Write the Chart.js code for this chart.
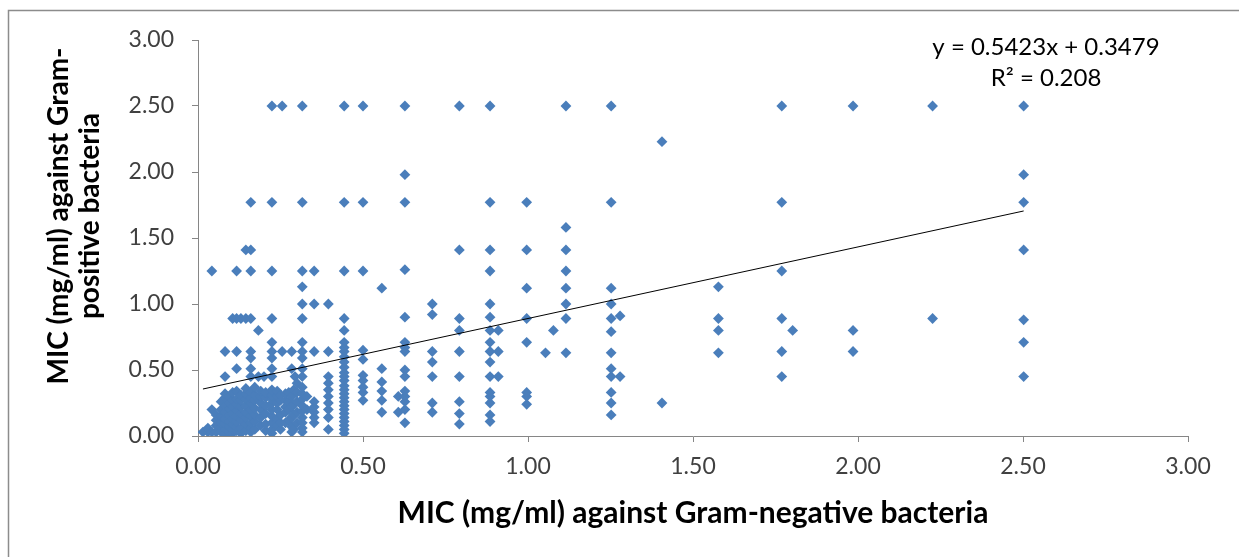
<!DOCTYPE html>
<html>
<head>
<meta charset="utf-8">
<script src="https://cdn.jsdelivr.net/npm/chart.js@4.4.1/dist/chart.umd.min.js"></script>
<style>
html,body{margin:0;padding:0;background:#fff;}
#wrap{width:1239px;height:557px;position:relative;}
</style>
</head>
<body>
<div id="wrap"><canvas id="c" width="1239" height="557"></canvas></div>
<script>
// MIC against Gram-negative bacteria (x) — one line per column of points
const gramNegative = [
  0.015,
  0.03, 0.03,
  0.042, 0.042, 0.042,
  0.055, 0.055, 0.055, 0.055,
  0.07, 0.07, 0.07, 0.07, 0.07, 0.07,
  0.082, 0.082, 0.082, 0.082, 0.082, 0.082, 0.082, 0.082, 0.082, 0.082,
  0.095, 0.095, 0.095, 0.095, 0.095, 0.095, 0.095,
  0.105, 0.105, 0.105, 0.105, 0.105, 0.105, 0.105, 0.105, 0.105,
  0.117, 0.117, 0.117, 0.117, 0.117, 0.117, 0.117, 0.117, 0.117, 0.117, 0.117, 0.117,
  0.13, 0.13, 0.13, 0.13, 0.13, 0.13, 0.13, 0.13,
  0.145, 0.145, 0.145, 0.145, 0.145, 0.145, 0.145, 0.145, 0.145, 0.145,
  0.16, 0.16, 0.16, 0.16, 0.16, 0.16, 0.16, 0.16, 0.16, 0.16, 0.16, 0.16, 0.16, 0.16, 0.16, 0.16,
  0.172, 0.172, 0.172, 0.172, 0.172, 0.172, 0.172,
  0.183, 0.183,
  0.19, 0.19, 0.19, 0.19, 0.19, 0.19,
  0.2,
  0.205, 0.205, 0.205, 0.205, 0.205, 0.205,
  0.224, 0.224, 0.224, 0.224, 0.224, 0.224, 0.224, 0.224, 0.224, 0.224, 0.224, 0.224, 0.224, 0.224, 0.224, 0.224, 0.224, 0.224,
  0.24, 0.24, 0.24, 0.24, 0.24, 0.24,
  0.25, 0.25, 0.25, 0.25, 0.25,
  0.255, 0.255,
  0.265, 0.265, 0.265, 0.265, 0.265,
  0.275, 0.275, 0.275, 0.275,
  0.284, 0.284, 0.284, 0.284, 0.284, 0.284, 0.284,
  0.29, 0.29, 0.29, 0.29,
  0.294,
  0.3, 0.3, 0.3, 0.3, 0.3,
  0.316, 0.316, 0.316, 0.316, 0.316, 0.316, 0.316, 0.316, 0.316, 0.316, 0.316, 0.316, 0.316, 0.316, 0.316, 0.316, 0.316, 0.316, 0.316, 0.316,
  0.33, 0.33,
  0.352, 0.352, 0.352, 0.352, 0.352, 0.352, 0.352, 0.352,
  0.395, 0.395, 0.395, 0.395, 0.395, 0.395, 0.395, 0.395, 0.395, 0.395,
  0.443, 0.443, 0.443, 0.443, 0.443, 0.443, 0.443, 0.443, 0.443, 0.443, 0.443, 0.443, 0.443, 0.443, 0.443, 0.443, 0.443, 0.443, 0.443, 0.443, 0.443, 0.443, 0.443, 0.443, 0.443, 0.443, 0.443,
  0.5, 0.5, 0.5, 0.5, 0.5, 0.5, 0.5, 0.5, 0.5, 0.5,
  0.557, 0.557, 0.557, 0.557, 0.557, 0.557,
  0.607, 0.607,
  0.627, 0.627, 0.627, 0.627, 0.627, 0.627, 0.627, 0.627, 0.627, 0.627, 0.627, 0.627, 0.627, 0.627, 0.627,
  0.71, 0.71, 0.71, 0.71, 0.71, 0.71, 0.71,
  0.792, 0.792, 0.792, 0.792, 0.792, 0.792, 0.792, 0.792, 0.792,
  0.885, 0.885, 0.885, 0.885, 0.885, 0.885, 0.885, 0.885, 0.885, 0.885, 0.885, 0.885, 0.885, 0.885, 0.885, 0.885,
  0.91, 0.91, 0.91,
  0.996, 0.996, 0.996, 0.996, 0.996, 0.996, 0.996, 0.996,
  1.053,
  1.077,
  1.115, 1.115, 1.115, 1.115, 1.115, 1.115, 1.115, 1.115,
  1.252, 1.252, 1.252, 1.252, 1.252, 1.252, 1.252, 1.252, 1.252, 1.252, 1.252, 1.252,
  1.279, 1.279,
  1.406, 1.406,
  1.577, 1.577, 1.577, 1.577,
  1.769, 1.769, 1.769, 1.769, 1.769, 1.769,
  1.802,
  1.985, 1.985, 1.985,
  2.226, 2.226,
  2.502, 2.502, 2.502, 2.502, 2.502, 2.502, 2.502
];

// MIC against Gram-positive bacteria (y) — same order as above
const gramPositive = [
  0.03,
  0.03, 0.06,
  0.03, 0.2, 1.25,
  0.03, 0.08, 0.12, 0.16,
  0.03, 0.06, 0.1, 0.15, 0.2, 0.26,
  0.02, 0.05, 0.09, 0.13, 0.18, 0.23, 0.29, 0.32, 0.45, 0.64,
  0.03, 0.07, 0.11, 0.16, 0.21, 0.25, 0.3,
  0.02, 0.05, 0.09, 0.13, 0.17, 0.22, 0.27, 0.33, 0.89,
  0.04, 0.07, 0.11, 0.15, 0.19, 0.24, 0.28, 0.34, 0.51, 0.64, 0.89, 1.25,
  0.02, 0.06, 0.12, 0.17, 0.22, 0.27, 0.31, 0.89,
  0.04, 0.09, 0.14, 0.18, 0.23, 0.28, 0.32, 0.36, 0.89, 1.41,
  0.03, 0.06, 0.1, 0.15, 0.2, 0.25, 0.29, 0.33, 0.45, 0.51, 0.59, 0.64, 0.89, 1.25, 1.41, 1.77,
  0.05, 0.11, 0.16, 0.21, 0.27, 0.31, 0.37,
  0.45, 0.8,
  0.08, 0.14, 0.2, 0.25, 0.3, 0.34,
  0.45,
  0.04, 0.09, 0.17, 0.23, 0.29, 0.33,
  0.02, 0.05, 0.1, 0.15, 0.2, 0.25, 0.28, 0.31, 0.35, 0.45, 0.51, 0.59, 0.64, 0.71, 0.89, 1.25, 1.77, 2.5,
  0.08, 0.13, 0.2, 0.25, 0.3, 0.34,
  0.05, 0.1, 0.16, 0.27, 0.31,
  0.64, 2.5,
  0.1, 0.18, 0.22, 0.27, 0.32,
  0.12, 0.2, 0.26, 0.33,
  0.03, 0.07, 0.14, 0.22, 0.3, 0.51, 0.64,
  0.05, 0.16, 0.24, 0.35,
  0.45,
  0.1, 0.18, 0.26, 0.33, 0.4,
  0.03, 0.06, 0.1, 0.14, 0.19, 0.23, 0.28, 0.32, 0.37, 0.45, 0.51, 0.59, 0.64, 0.71, 0.89, 1.0, 1.13, 1.25, 1.77, 2.5,
  0.2, 0.3,
  0.1, 0.14, 0.18, 0.22, 0.26, 0.64, 1.0, 1.25,
  0.05, 0.14, 0.2, 0.25, 0.3, 0.35, 0.4, 0.45, 0.64, 1.0,
  0.02, 0.05, 0.08, 0.11, 0.14, 0.17, 0.2, 0.23, 0.26, 0.29, 0.32, 0.35, 0.38, 0.42, 0.45, 0.48, 0.52, 0.56, 0.6, 0.64, 0.67, 0.71, 0.8, 0.89, 1.25, 1.77, 2.5,
  0.27, 0.33, 0.37, 0.42, 0.46, 0.58, 0.65, 1.25, 1.77, 2.5,
  0.18, 0.27, 0.34, 0.41, 0.51, 1.12,
  0.18, 0.3,
  0.1, 0.2, 0.26, 0.3, 0.34, 0.45, 0.5, 0.64, 0.67, 0.71, 0.9, 1.26, 1.77, 1.98, 2.5,
  0.18, 0.25, 0.45, 0.56, 0.64, 0.92, 1.0,
  0.09, 0.17, 0.26, 0.45, 0.64, 0.8, 0.89, 1.41, 2.5,
  0.11, 0.16, 0.25, 0.3, 0.33, 0.45, 0.56, 0.64, 0.71, 0.8, 0.9, 1.0, 1.25, 1.41, 1.77, 2.5,
  0.45, 0.64, 0.8,
  0.24, 0.3, 0.33, 0.71, 0.89, 1.12, 1.41, 1.77,
  0.63,
  0.8,
  0.63, 0.89, 1.0, 1.12, 1.25, 1.41, 1.58, 2.5,
  0.16, 0.25, 0.33, 0.45, 0.51, 0.63, 0.79, 0.89, 1.0, 1.12, 1.77, 2.5,
  0.45, 0.91,
  0.25, 2.23,
  0.63, 0.8, 0.89, 1.13,
  0.45, 0.64, 0.89, 1.25, 1.77, 2.5,
  0.8,
  0.64, 0.8, 2.5,
  0.89, 2.5,
  0.45, 0.71, 0.88, 1.41, 1.77, 1.98, 2.5
];

// Linear trendline reported on the chart
const trendSlope = 0.5423;
const trendIntercept = 0.3479;
const trendR2 = 0.208;

// Axis tick values (both axes)
const axisTicks = [0, 0.5, 1, 1.5, 2, 2.5, 3];

const xTitle = 'MIC (mg/ml) against Gram-negative bacteria';
const yTitleLines = ['MIC (mg/ml) against Gram-', 'positive bacteria'];
const equationLines = ['y = 0.5423x + 0.3479', 'R\u00B2 = 0.208'];

// ---------- build chart ----------
const n = Math.min(gramNegative.length, gramPositive.length);
const scatterPoints = [];
for (let i = 0; i < n; i++) scatterPoints.push({x: gramNegative[i], y: gramPositive[i]});
const xMin = Math.min(...gramNegative.slice(0, n));
const xMax = Math.max(...gramNegative.slice(0, n));
const trendPoints = [
  {x: xMin, y: trendSlope * xMin + trendIntercept},
  {x: xMax, y: trendSlope * xMax + trendIntercept}
];

const AXIS_GRAY = '#868686';
const TICK_TEXT = '#404040';
const FONT = 'Lato, "Open Sans", "Noto Sans", sans-serif';

const decorPlugin = {
  id: 'decor',
  beforeDraw(chart) {
    const ctx = chart.ctx;
    ctx.save();
    ctx.fillStyle = '#ffffff';
    ctx.fillRect(0, 0, chart.width, chart.height);
    ctx.strokeStyle = '#8c8c8c';
    ctx.lineWidth = 1.5;
    ctx.strokeRect(8.5, 10.5, chart.width + 20, chart.height + 20);
    ctx.restore();
  },
  afterDraw(chart) {
    const ctx = chart.ctx;
    const area = chart.chartArea;
    ctx.save();
    // y-axis title (two lines, rotated)
    ctx.font = 'bold 28px ' + FONT;
    ctx.fillStyle = '#000000';
    ctx.textAlign = 'center';
    ctx.textBaseline = 'middle';
    const cy = area.top + (area.bottom - area.top) / 2 - 22;
    yTitleLines.forEach((line, i) => {
      ctx.save();
      ctx.translate(59 + i * 31, cy);
      ctx.rotate(-Math.PI / 2);
      ctx.fillText(line, 0, 0);
      ctx.restore();
    });
    // trendline equation
    ctx.font = '24px ' + FONT;
    ctx.fillStyle = '#000000';
    const ex = area.right - 142;
    equationLines.forEach((line, i) => {
      ctx.fillText(line, ex, area.top + 7 + i * 31);
    });
    ctx.restore();
  }
};

new Chart(document.getElementById('c'), {
  data: {
    datasets: [
      {
        type: 'line',
        label: 'Linear trendline',
        data: trendPoints,
        borderColor: '#000000',
        borderWidth: 1,
        pointRadius: 0,
        fill: false,
        order: 0
      },
      {
        type: 'scatter',
        label: 'MIC',
        data: scatterPoints,
        pointStyle: 'rectRot',
        pointRadius: 5.4,
        pointBorderWidth: 0,
        backgroundColor: '#4a7ebb',
        borderColor: '#4a7ebb',
        order: 1
      }
    ]
  },
  options: {
    responsive: false,
    devicePixelRatio: 1,
    animation: false,
    events: [],
    layout: { padding: { left: 0, top: 40, right: 51, bottom: 0 } },
    plugins: { legend: { display: false }, tooltip: { enabled: false } },
    scales: {
      x: {
        type: 'linear',
        min: 0, max: 3,
        afterFit(scale) { scale.height = 121; },
        afterBuildTicks(scale) { scale.ticks = axisTicks.map(v => ({value: v})); },
        ticks: {
          callback: v => Number(v).toFixed(2),
          font: { family: FONT, size: 23 },
          color: TICK_TEXT,
          padding: 11,
          maxRotation: 0
        },
        grid: { drawOnChartArea: false, drawTicks: true, tickLength: 6, color: AXIS_GRAY },
        border: { display: true, color: AXIS_GRAY, width: 1 },
        title: {
          display: true,
          text: xTitle,
          color: '#000000',
          font: { family: FONT, size: 30, weight: 'bold' },
          padding: { top: 0, bottom: 26 }
        }
      },
      y: {
        type: 'linear',
        min: 0, max: 3,
        afterFit(scale) { scale.width = 198; },
        afterBuildTicks(scale) { scale.ticks = axisTicks.map(v => ({value: v})); },
        ticks: {
          callback: v => Number(v).toFixed(2),
          font: { family: FONT, size: 23 },
          color: TICK_TEXT,
          padding: 18
        },
        grid: { drawOnChartArea: false, drawTicks: true, tickLength: 6, color: AXIS_GRAY },
        border: { display: true, color: AXIS_GRAY, width: 1 }
      }
    }
  },
  plugins: [decorPlugin]
});
</script>
</body>
</html>
